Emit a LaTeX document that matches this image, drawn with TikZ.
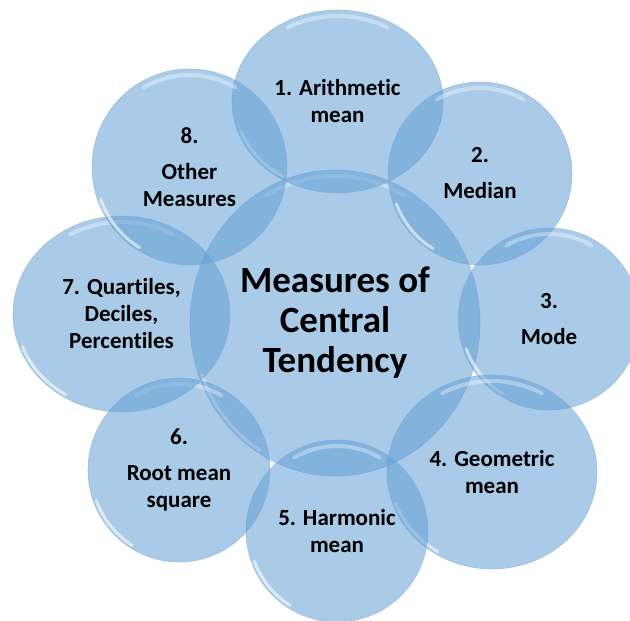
\documentclass[tikz,border=0pt]{standalone}
\usepackage{fontspec}
\setmainfont{Carlito}[Ligatures=NoCommon]
\usetikzlibrary{shapes.geometric}

\definecolor{bubblefill}{RGB}{95,157,212}
\definecolor{bubbleedge}{RGB}{120,172,220}

\tikzset{
  bubble/.style={ellipse, inner sep=0pt, fill=bubblefill, fill opacity=0.53,
    draw=bubbleedge, draw opacity=0.6, line width=0.6pt},
  glint/.style={white, line width=4pt, opacity=0.35, line cap=round},
  lbl/.style={align=center, font=\bfseries\fontsize{23}{27}\selectfont},
  title/.style={align=center, font=\bfseries\fontsize{37}{40}\selectfont},
}

\begin{document}
\begin{tikzpicture}[x=1pt, y=1pt]
  \useasboundingbox (0,0) rectangle (630,621);

  % Bubbles: name/x/y/x radius/y radius
  \foreach \nm/\cx/\cy/\rx/\ry in {central/335/298/145/153,
      arith/337.5/519.5/105.5/91.5, median/480/447.5/92/91.5,
      mode/549/302/91/91, geo/492/149/105/97, harm/337/90/91/91,
      rms/179/151/91/92, quart/121.5/307/108.5/98, other/189.5/454/97.5/98}
  {
    \node[bubble, minimum width=2*\rx, minimum height=2*\ry] (\nm) at (\cx,\cy) {};
    % glass highlights
    \draw[glint] (\cx,\cy) ++(60:{\rx-6} and {\ry-6})
      arc[start angle=60, end angle=120, x radius=\rx-6, y radius=\ry-6];
    \draw[glint, line width=3pt, opacity=0.6] (\cx,\cy) ++(200:{\rx-3} and {\ry-3})
      arc[start angle=200, end angle=238, x radius=\rx-3, y radius=\ry-3];
  }

  % Labels
  \node[title] (central-txt) at (central) {Measures of\\Central\\Tendency};
  \node[lbl] (arith-txt) at (arith) {1. Arithmetic\\mean};
  \node[lbl] (median-txt) at (median) {2.\\[9pt]Median};
  \node[lbl] (mode-txt) at (mode) {3.\\[9pt]Mode};
  \node[lbl] (geo-txt) at (geo) {4. Geometric\\mean};
  \node[lbl] (harm-txt) at (harm) {5. Harmonic\\mean};
  \node[lbl] (rms-txt) at (rms) {6.\\[9pt]Root mean\\square};
  \node[lbl] (quart-txt) at (quart) {7. Quartiles,\\Deciles,\\Percentiles};
  \node[lbl] (other-txt) at (other) {8.\\[9pt]Other\\Measures};
\end{tikzpicture}
\end{document}
